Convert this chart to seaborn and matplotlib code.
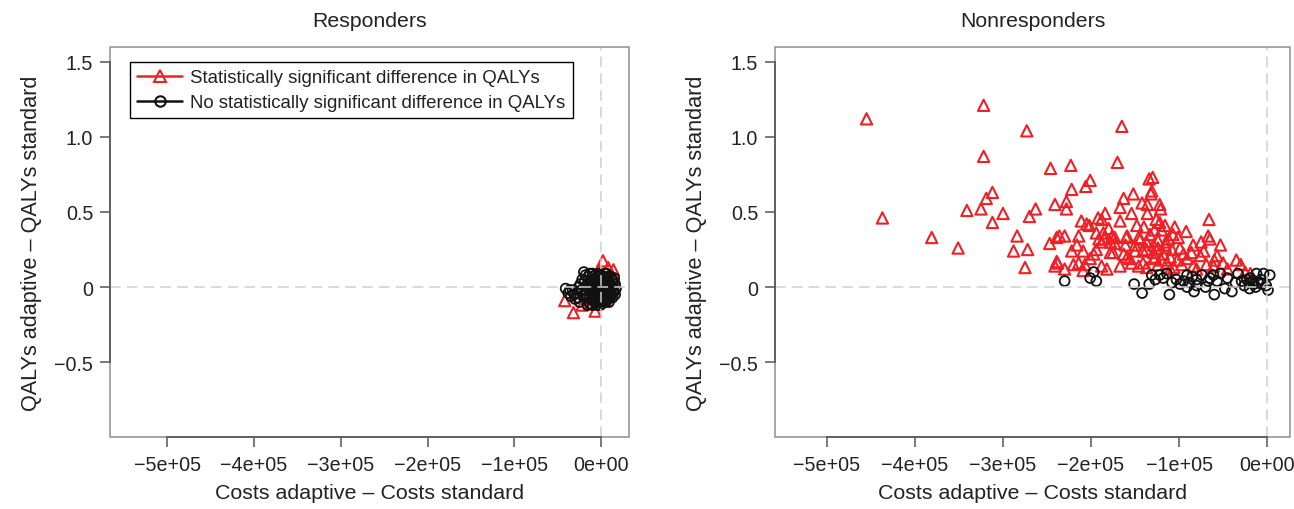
import matplotlib
matplotlib.use("Agg")
import matplotlib.pyplot as plt
import seaborn as sns
import numpy as np
from matplotlib.lines import Line2D
from matplotlib.patches import Rectangle
from matplotlib.ticker import FixedLocator, FixedFormatter

# ---------------- data (costs in 1e5 units, QALY differences) ----------------
panel_titles = ["Responders", "Nonresponders"]
legend_labels = ["Statistically significant difference in QALYs",
                 "No statistically significant difference in QALYs"]
x_label = "Costs adaptive \u2013 Costs standard"
y_label = "QALYs adaptive \u2013 QALYs standard"
x_ticks = [-5e5, -4e5, -3e5, -2e5, -1e5, 0]
x_tick_labels = ["\u22125e+05", "\u22124e+05", "\u22123e+05", "\u22122e+05", "\u22121e+05", "0e+00"]
y_ticks = [-0.5, 0, 0.5, 1.0, 1.5]
y_tick_labels = ["\u22120.5", "0", "0.5", "1.0", "1.5"]

# Responders - significant (red triangles)
resp_sig_cost = [0.02, 0.08, 0.14, -0.03, -0.01, -0.42, -0.32, -0.22, -0.07, -0.03, -0.16, -0.13, 0.05, 0.09]
resp_sig_qaly = [0.175, 0.13, 0.115, 0.115, 0.10, -0.09, -0.17, -0.12, -0.16, -0.08, -0.08, -0.11, -0.09, -0.06]
# Responders - not significant (black circles)
resp_ns_cost = [-0.41, -0.38, -0.35, -0.33, -0.30, -0.28, -0.26, -0.25, -0.22, -0.20, -0.18, -0.17, -0.15, -0.14,
                -0.13, -0.12, -0.11, -0.10, -0.09, -0.08, -0.07, -0.06, -0.05, -0.05, -0.04, -0.03, -0.02, -0.02,
                -0.01, 0.00, 0.00, 0.01, 0.02, 0.03, 0.03, 0.04, 0.05, 0.06, 0.07, 0.08, 0.09, 0.10, 0.11, 0.12,
                0.13, 0.14, 0.15, 0.16, 0.17, -0.16, -0.21, -0.24, -0.19, 0.05, -0.08, 0.01,
                -0.14, -0.11, -0.09, -0.07, -0.06, -0.04, -0.03, -0.01, 0.01, 0.02, 0.04, 0.05, 0.07, 0.08,
                0.10, 0.11, 0.12, 0.14, -0.12, -0.10, -0.08, -0.05, -0.02, 0.00, 0.02, 0.04, 0.06, 0.08,
                0.10, 0.13, -0.20, -0.23, -0.27, -0.31, -0.36, -0.18, -0.16, -0.13, -0.03, 0.06, 0.15, 0.16,
                -0.01, -0.10, 0.09, -0.06, 0.03, -0.07]
resp_ns_qaly = [-0.01, -0.04, -0.06, -0.02, -0.08, -0.04, 0.00, -0.10, 0.05, 0.10, -0.02, -0.07, 0.07, 0.03,
                -0.11, -0.04, 0.01, 0.09, -0.08, 0.05, -0.02, 0.02, -0.12, 0.07, -0.05, 0.00, 0.04, -0.09,
                0.08, -0.03, 0.02, 0.06, -0.07, -0.01, 0.03, 0.09, -0.04, 0.01, 0.05, -0.08, -0.02, 0.03, 0.07, -0.05,
                0.00, 0.04, -0.03, 0.02, -0.01, -0.12, -0.06, 0.02, 0.04, -0.10, -0.10, -0.11,
                -0.06, -0.08, -0.03, -0.06, 0.05, 0.02, -0.07, -0.05, -0.01, 0.03, -0.06, 0.06, -0.03, 0.02,
                -0.06, 0.00, 0.05, -0.02, 0.04, -0.01, 0.01, -0.02, 0.01, 0.05, -0.09, 0.01, -0.08, 0.07,
                0.01, -0.07, -0.05, -0.02, -0.07, -0.05, -0.02, 0.08, 0.02, 0.09, 0.09, 0.09, 0.06, -0.05,
                -0.12, -0.12, -0.10, -0.10, 0.07, 0.08]

# Nonresponders - significant (red triangles)
non_sig_cost = [-4.55, -4.37, -3.81, -3.51, -3.22, -3.22, -2.73, -2.46, -3.41, -3.25, -3.19, -3.12, -3.12, -3.00,
                -2.84, -2.88, -2.72, -2.75, -2.70, -2.63, -2.41, -2.47, -2.39, -2.41, -2.39,
                -1.65, -2.23, -1.70, -2.01, -2.06, -2.22, -1.34, -2.28, -2.28, -2.36, -2.30, -2.38, -2.30, -2.11,
                -2.05, -2.14, -2.16, -2.22, -2.09, -2.14, -2.01, -2.09, -1.94, -1.92, -1.84, -1.94, -1.86, -1.80,
                -1.88, -1.78, -1.73, -1.67, -1.63, -1.67, -1.52, -1.54, -1.42, -1.48, -1.59, -1.61, -1.50, -1.44,
                -1.37, -1.41, -1.88, -1.82, -1.67, -1.59, -1.54, -1.46, -1.37, -1.97, -1.75,
                -1.30, -1.31, -1.32, -1.36, -1.36, -1.22, -1.21, -2.02, -1.88, -0.66, -1.22, -1.16, -1.05, -1.20,
                -1.07, -0.92, -1.12, -1.01, -0.67, -0.65, -1.91, -1.85, -1.76, -1.60, -1.46, -1.73, -1.29, -1.78,
                -1.63, -1.50, -1.37, -1.24, -1.16, -1.08, -0.99, -0.84, -0.53, -0.86, -0.76, -0.57, -0.35, -0.50,
                -0.69, -2.20, -2.07, -1.56, -1.41, -1.29, -1.24, -1.14, -1.06, -0.97, -0.91, -0.84, -0.61, -0.19,
                -1.29, -1.18, -1.24, -1.27, -1.20, -1.10, -1.02, -1.33, -1.28, -1.15, -0.95, -0.75, -0.45, -0.30,
                -0.25, -1.40, -1.26, -1.10, -0.80, -0.72, -0.60]
non_sig_qaly = [1.12, 0.46, 0.33, 0.26, 1.21, 0.87, 1.04, 0.79, 0.51, 0.52, 0.59, 0.63, 0.43, 0.49,
                0.34, 0.24, 0.25, 0.13, 0.47, 0.52, 0.55, 0.29, 0.33, 0.14, 0.17,
                1.07, 0.81, 0.83, 0.71, 0.67, 0.65, 0.72, 0.57, 0.52, 0.34, 0.34, 0.16, 0.12, 0.44,
                0.42, 0.34, 0.28, 0.24, 0.24, 0.16, 0.19, 0.11, 0.25, 0.46, 0.49, 0.36, 0.36, 0.39,
                0.30, 0.30, 0.33, 0.44, 0.59, 0.53, 0.62, 0.49, 0.56, 0.41, 0.34, 0.28, 0.28, 0.32,
                0.30, 0.24, 0.14, 0.12, 0.14, 0.20, 0.16, 0.14, 0.13, 0.22, 0.23,
                0.73, 0.64, 0.62, 0.55, 0.49, 0.55, 0.52, 0.41, 0.45, 0.45, 0.43, 0.41, 0.40, 0.38,
                0.35, 0.37, 0.32, 0.33, 0.34, 0.32, 0.32, 0.32, 0.34, 0.33, 0.33, 0.29, 0.28, 0.23,
                0.22, 0.24, 0.25, 0.26, 0.28, 0.25, 0.26, 0.28, 0.28, 0.23, 0.21, 0.21, 0.18, 0.16,
                0.15, 0.15, 0.15, 0.19, 0.16, 0.19, 0.15, 0.16, 0.13, 0.15, 0.19, 0.14, 0.14, 0.09,
                0.23, 0.22, 0.31, 0.20, 0.18, 0.20, 0.18, 0.35, 0.38, 0.30, 0.22, 0.30, 0.12, 0.15,
                0.10, 0.40, 0.45, 0.12, 0.12, 0.24, 0.18]
# Nonresponders - not significant (black circles)
non_ns_cost = [-2.30, -2.01, -1.97, -1.94, -1.51, -1.42, -1.34, -1.31, -1.27, -1.22, -1.14, -1.11, -1.08, -1.03,
               -0.99, -0.95, -0.91, -0.88, -0.83, -0.80, -0.74, -0.70, -0.67, -0.61, -0.60, -0.57, -0.53, -0.48,
               -0.40, -0.36, -0.33, -0.29, -0.26, -0.23, -0.20, -0.19, -0.16, -0.12, -0.04, 0.03, -0.01, 0.01,
               -0.91, -0.80, -1.18, -0.85, -0.65, -0.45, -0.15, -0.10, -0.07, -0.13, -0.06, -0.20]
non_ns_qaly = [0.04, 0.06, 0.10, 0.04, 0.02, -0.04, 0.02, 0.08, 0.05, 0.08, 0.09, -0.05, 0.03, 0.05,
               0.02, 0.04, 0.08, 0.03, -0.03, 0.05, 0.08, 0.00, 0.04, 0.08, -0.05, 0.04, 0.09, -0.01,
               -0.03, 0.03, 0.09, 0.04, 0.01, 0.05, -0.01, 0.06, 0.04, 0.09, 0.09, 0.08, 0.01, -0.02,
               0.00, 0.01, 0.06, 0.07, 0.06, 0.06, 0.02, 0.03, 0.05, 0.00, 0.02, 0.03]

# ---------------- style ----------------
sns.set_style("white")
plt.rcParams["font.family"] = ["Liberation Sans", "DejaVu Sans"]
RED = "#EE2026"
BLACK = "#111111"
BOX = "#8E8E8E"
AXC = "#555555"
REF = "#CFCFCF"

fig = plt.figure(figsize=(12.94, 5.10), dpi=100)
W, H = 1294.0, 510.0
bottom = (H - 437.7) / H
height = 389.4 / H
ax1 = fig.add_axes([110 / W, bottom, 519 / W, height])
ax2 = fig.add_axes([775 / W, bottom, 515 / W, height])

panels = [
    (ax1, resp_sig_cost, resp_sig_qaly, resp_ns_cost, resp_ns_qaly, (-5.66e5, 0.32e5)),
    (ax2, non_sig_cost, non_sig_qaly, non_ns_cost, non_ns_qaly, (-5.59e5, 0.26e5)),
]

for i, (ax, sx, sy, nx, ny, xl) in enumerate(panels):
    sns.scatterplot(x=np.array(sx) * 1e5, y=sy, marker="^", s=66, facecolors="none",
                    edgecolors=RED, linewidth=1.5, ax=ax, legend=False, zorder=2)
    sns.scatterplot(x=np.array(nx) * 1e5, y=ny, marker="o", s=50, facecolors="none",
                    edgecolors=BLACK, linewidth=1.3, ax=ax, legend=False, zorder=2.5)
    ax.axhline(0, color=REF, lw=1.1, ls=(0, (7, 4)), zorder=4)
    ax.axvline(0, color=REF, lw=1.1, ls=(0, (7, 4)), zorder=4)
    ax.set_xlim(*xl)
    ax.set_ylim(-0.996, 1.596)

    for s in ["top", "right"]:
        ax.spines[s].set_visible(False)
    ax.spines["left"].set_bounds(-0.5, 1.5)
    ax.spines["bottom"].set_bounds(-5e5, 0)
    for s in ["left", "bottom"]:
        ax.spines[s].set_color(AXC)
        ax.spines[s].set_linewidth(1.2)
        ax.spines[s].set_zorder(5)
    ax.add_patch(Rectangle((0, 0), 1, 1, transform=ax.transAxes, fill=False,
                           edgecolor=BOX, lw=1.1, zorder=4.5, clip_on=False))

    ax.xaxis.set_major_locator(FixedLocator(x_ticks))
    ax.xaxis.set_major_formatter(FixedFormatter(x_tick_labels))
    ax.yaxis.set_major_locator(FixedLocator(y_ticks))
    ax.yaxis.set_major_formatter(FixedFormatter(y_tick_labels))
    ax.tick_params(axis="both", direction="out", length=7, width=1.1, color=AXC,
                   labelsize=14.2, labelcolor="#222222", left=True, bottom=True)
    ax.tick_params(axis="x", pad=6)
    ax.tick_params(axis="y", pad=5)

    ax.set_xlabel(x_label, fontsize=15.4, color="#222222", labelpad=7)
    ax.set_ylabel(y_label, fontsize=15.6, color="#222222", labelpad=9)
    ax.set_title(panel_titles[i], fontsize=15.3, color="#222222", pad=15)

handles = [
    Line2D([], [], color=RED, lw=1.8, marker="^", markersize=8.5, markerfacecolor="none",
           markeredgecolor=RED, markeredgewidth=1.5),
    Line2D([], [], color=BLACK, lw=1.8, marker="o", markersize=7.5, markerfacecolor="none",
           markeredgecolor=BLACK, markeredgewidth=1.5),
]
leg = ax1.legend(handles, legend_labels, loc="upper left",
                 bbox_to_anchor=((130 - 110) / 519, (437.7 - 62.7) / 389.4),
                 borderaxespad=0, fontsize=13.4, frameon=True, fancybox=False,
                 handlelength=2.4, handletextpad=0.45, borderpad=0.4, labelspacing=0.42,
                 edgecolor="black", framealpha=1)
leg.get_frame().set_linewidth(1.0)
for t in leg.get_texts():
    t.set_color("#222222")

fig.savefig("out.png", dpi=100, facecolor="white")
